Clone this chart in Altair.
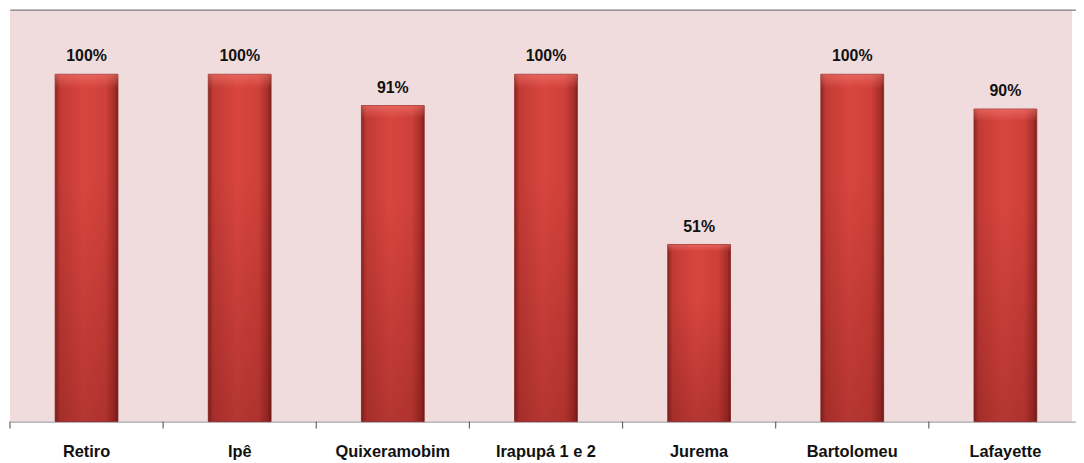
import altair as alt
import pandas as pd

categories = ["Retiro", "Ipê", "Quixeramobim", "Irapupá 1 e 2", "Jurema", "Bartolomeu", "Lafayette"]
values = [1.00, 1.00, 0.91, 1.00, 0.51, 1.00, 0.90]
boundaries = list(range(len(categories) + 1))

df = pd.DataFrame({"cat": categories, "val": values})
bdf = pd.DataFrame({"b": boundaries})

FONT = "Liberation Sans"

xscale = alt.Scale(range=[0, 1080], paddingInner=0.59, paddingOuter=0.295)

x = alt.X("cat:N", sort=categories, title=None, scale=xscale,
          axis=alt.Axis(labelAngle=0, labelFont=FONT, labelFontSize=16.5, labelFontWeight="bold",
                        labelColor="#111111", labelPadding=22, ticks=False,
                        domainColor="#8c8c8c", domainWidth=1, grid=False))
y = alt.Y("val:Q", title=None, scale=alt.Scale(domain=[0, 1.186], nice=False, zero=True),
          axis=None)

side_grad = alt.Gradient(
    gradient="linear", x1=0, x2=1, y1=0, y2=0,
    stops=[
        alt.GradientStop(color="#8e2522", offset=0),
        alt.GradientStop(color="#c23a35", offset=0.08),
        alt.GradientStop(color="#d8453f", offset=0.45),
        alt.GradientStop(color="#cf403a", offset=0.8),
        alt.GradientStop(color="#a52d29", offset=0.95),
        alt.GradientStop(color="#7a1f1c", offset=1),
    ])

vert_grad = alt.Gradient(
    gradient="linear", x1=0, x2=0, y1=0, y2=1,
    stops=[
        alt.GradientStop(color="rgba(255,140,130,0.45)", offset=0),
        alt.GradientStop(color="rgba(255,140,130,0.0)", offset=0.04),
        alt.GradientStop(color="rgba(60,0,0,0.0)", offset=0.3),
        alt.GradientStop(color="rgba(60,0,0,0.22)", offset=1),
    ])

base = alt.Chart(df)

bars = base.mark_bar(color=side_grad, stroke="#8a2523", strokeWidth=0.8).encode(x=x, y=y)
shade = base.mark_bar(color=vert_grad).encode(x=x, y=y)
labels = base.mark_text(font=FONT, fontSize=16, fontWeight="bold", color="#111111",
                        baseline="alphabetic", dy=-13).encode(
    x=x, y=y, text=alt.Text("val:Q", format=".0%"))
ticks = alt.Chart(bdf).mark_rule(color="#666666", strokeWidth=1.2).encode(
    x=alt.X("b:Q", scale=alt.Scale(domain=[0, len(categories)], range=[0, 1080], nice=False, zero=False),
            axis=None),
    y=alt.value(415), y2=alt.value(422))

chart = alt.layer(bars, shade, labels, ticks).resolve_scale(x="independent").properties(
    width=1070, height=415,
    autosize=alt.AutoSizeParams(type="none"),
    padding={"left": 2, "top": 0, "right": 4, "bottom": 40},
    background="white",
).configure_view(fill="#f0dcdc", stroke=None)

chart.save("out.html", embed_options={"renderer": "svg", "actions": False})
